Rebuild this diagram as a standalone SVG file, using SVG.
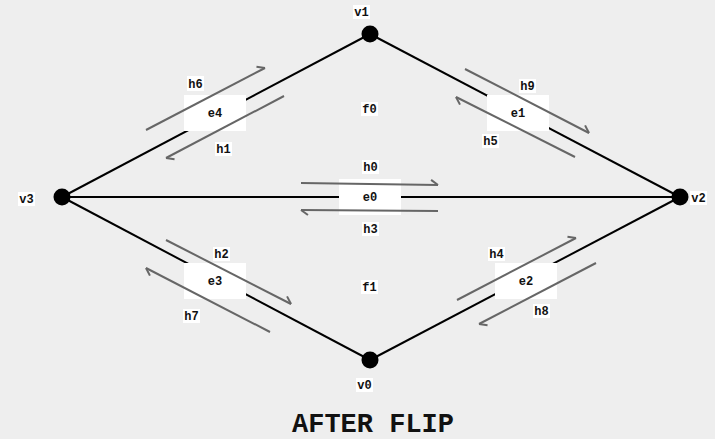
<svg xmlns="http://www.w3.org/2000/svg" width="715" height="439" viewBox="0 0 715 439">
<style>
.bg{fill:#eeeeee}
.edge{stroke:#000;stroke-width:2;fill:none}
.v{fill:#000}
.ebox{fill:#fff}
.lbg{fill:#fff}
.he{stroke:#666;stroke-width:2;fill:none;marker-end:url(#half)}
text{font-family:"Liberation Mono","Courier New",monospace;font-weight:bold;font-size:12px;fill:#111;text-anchor:middle}
.title{font-size:27px;fill:#111}
</style>
<defs>
<marker id="half" markerWidth="20" markerHeight="20" viewBox="0 0 20 20" refX="10" refY="10" orient="auto" markerUnits="userSpaceOnUse" overflow="visible">
<path d="M10,10 L3,5" stroke="#666" stroke-width="2" fill="none"/>
</marker>
</defs>
<rect class="bg" x="0" y="0" width="715" height="439"/>
<g id="connectors">
<line class="edge" x1="62" y1="197" x2="370" y2="34"/>
<line class="edge" x1="370" y1="34" x2="680" y2="197"/>
<line class="edge" x1="62" y1="197" x2="680" y2="197"/>
<line class="edge" x1="62" y1="197" x2="370" y2="360"/>
<line class="edge" x1="370" y1="360" x2="680" y2="197"/>
<g id="e4"><rect class="ebox" x="184" y="95" width="62" height="36"/><text x="215" y="117">e4</text></g>
<g id="e1"><rect class="ebox" x="487" y="95" width="62" height="36"/><text x="518" y="117">e1</text></g>
<g id="e0"><rect class="ebox" x="339" y="179" width="62" height="36"/><text x="370" y="201">e0</text></g>
<g id="e3"><rect class="ebox" x="184" y="263" width="62" height="36"/><text x="215" y="285">e3</text></g>
<g id="e2"><rect class="ebox" x="495" y="263" width="62" height="36"/><text x="526" y="285">e2</text></g>
</g>
<g id="vertices">
<g id="v1"><circle class="v" cx="370" cy="34" r="8.5"/><rect class="lbg" x="353" y="5" width="17" height="14"/><text x="361.5" y="16">v1</text></g>
<g id="v2"><circle class="v" cx="680" cy="197" r="8.5"/><rect class="lbg" x="690" y="191" width="17" height="14"/><text x="698.5" y="202">v2</text></g>
<g id="v3"><circle class="v" cx="62" cy="197" r="8.5"/><rect class="lbg" x="18" y="192" width="17" height="14"/><text x="26.5" y="203">v3</text></g>
<g id="v0"><circle class="v" cx="370" cy="360" r="8.5"/><rect class="lbg" x="356" y="378" width="17" height="14"/><text x="364.5" y="389">v0</text></g>
</g>
<g id="faces">
<g id="f0"><rect class="lbg" x="361" y="102" width="17" height="14"/><text x="369.5" y="113">f0</text></g>
<g id="f1"><rect class="lbg" x="361" y="280" width="17" height="14"/><text x="369.5" y="291">f1</text></g>
</g>
<g id="halfedges">
<line class="he" x1="146" y1="130" x2="265" y2="68"/>
<line class="he" x1="284" y1="96" x2="166" y2="158"/>
<line class="he" x1="465" y1="69" x2="589" y2="133"/>
<line class="he" x1="575" y1="157" x2="456" y2="97"/>
<line class="he" x1="301" y1="183" x2="438" y2="185"/>
<line class="he" x1="438" y1="211" x2="301" y2="210"/>
<line class="he" x1="166" y1="240" x2="291" y2="304"/>
<line class="he" x1="270" y1="332" x2="146" y2="268"/>
<line class="he" x1="457" y1="300" x2="576" y2="238"/>
<line class="he" x1="596" y1="263" x2="479" y2="324"/>
</g>
<g id="halfedge-labels">
<g id="h6"><rect class="lbg" x="187" y="76" width="17" height="15"/><text x="195.5" y="88">h6</text></g>
<g id="h1"><rect class="lbg" x="215" y="142" width="17" height="14"/><text x="223.5" y="153">h1</text></g>
<g id="h9"><rect class="lbg" x="519" y="79" width="17" height="14"/><text x="527.5" y="90">h9</text></g>
<g id="h5"><rect class="lbg" x="482" y="134" width="17" height="14"/><text x="490.5" y="145">h5</text></g>
<g id="h0"><rect class="lbg" x="362" y="160" width="17" height="14"/><text x="370.5" y="171">h0</text></g>
<g id="h3"><rect class="lbg" x="362" y="222" width="17" height="14"/><text x="370.5" y="233">h3</text></g>
<g id="h2"><rect class="lbg" x="213" y="247" width="17" height="14"/><text x="221.5" y="258">h2</text></g>
<g id="h7"><rect class="lbg" x="183" y="309" width="17" height="14"/><text x="191.5" y="320">h7</text></g>
<g id="h4"><rect class="lbg" x="488" y="247" width="17" height="14"/><text x="496.5" y="258">h4</text></g>
<g id="h8"><rect class="lbg" x="533" y="304" width="17" height="14"/><text x="541.5" y="315">h8</text></g>
</g>
<text class="title" x="373" y="432">AFTER FLIP</text>
</svg>
